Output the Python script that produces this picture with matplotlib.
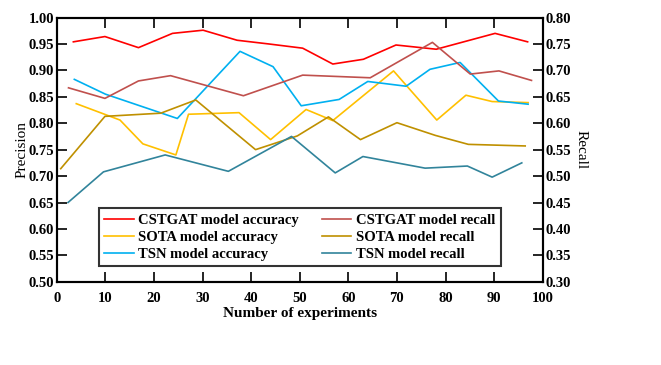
import matplotlib
matplotlib.use("Agg")
import matplotlib.pyplot as plt

# ---- data ----
cst_acc_x = [3.4, 9.9, 16.8, 23.8, 30.1, 37.1, 43.6, 50.6, 56.8, 63.1, 69.8, 78.1, 90.2, 96.9]
cst_acc_y = [0.954, 0.964, 0.943, 0.970, 0.976, 0.957, 0.950, 0.942, 0.912, 0.921, 0.948, 0.940, 0.970, 0.954]

sota_acc_x = [4.0, 10.1, 13.0, 17.7, 24.5, 27.1, 37.5, 44.0, 51.3, 56.8, 69.3, 78.2, 84.2, 89.6, 97.0]
sota_acc_y = [0.837, 0.816, 0.806, 0.761, 0.740, 0.817, 0.820, 0.769, 0.826, 0.805, 0.899, 0.806, 0.853, 0.841, 0.839]

tsn_acc_x = [3.6, 10.0, 24.8, 37.7, 44.5, 50.3, 58.1, 64.0, 71.9, 76.8, 83.0, 90.9, 97.0]
tsn_acc_y = [0.883, 0.855, 0.809, 0.936, 0.907, 0.833, 0.845, 0.879, 0.870, 0.902, 0.915, 0.842, 0.836]

cst_rec_x = [2.4, 9.9, 16.8, 23.4, 38.4, 50.6, 64.5, 77.3, 85.1, 91.0, 97.7]
cst_rec_y = [0.667, 0.647, 0.680, 0.690, 0.652, 0.691, 0.686, 0.753, 0.693, 0.699, 0.681]

sota_rec_x = [0.8, 9.9, 21.4, 28.6, 40.9, 49.5, 55.9, 62.5, 70.0, 77.9, 84.7, 96.4]
sota_rec_y = [0.514, 0.613, 0.619, 0.644, 0.550, 0.576, 0.612, 0.569, 0.601, 0.577, 0.560, 0.557]

tsn_rec_x = [2.3, 9.6, 22.3, 35.3, 48.3, 57.3, 63.0, 75.8, 84.5, 89.6, 95.7]
tsn_rec_y = [0.450, 0.508, 0.540, 0.509, 0.575, 0.506, 0.537, 0.515, 0.519, 0.498, 0.525]

x_ticks = [0, 10, 20, 30, 40, 50, 60, 70, 80, 90, 100]
left_ticks = [0.50, 0.55, 0.60, 0.65, 0.70, 0.75, 0.80, 0.85, 0.90, 0.95, 1.00]
right_ticks = [0.30, 0.35, 0.40, 0.45, 0.50, 0.55, 0.60, 0.65, 0.70, 0.75, 0.80]

labels_acc = ["CSTGAT model accuracy", "SOTA model accuracy", "TSN model accuracy"]
labels_rec = ["CSTGAT model recall", "SOTA model recall", "TSN model recall"]

# ---- style ----
plt.rcParams['font.family'] = ['Liberation Serif', 'DejaVu Serif']
fs = 10.5
lw = 1.2

fig = plt.figure(figsize=(6.61, 3.65), dpi=100)
ax = fig.add_axes([0.086, 0.228, 0.735, 0.724])
ax2 = ax.twinx()

c_red, c_ired = '#FF0000', '#C0504D'
c_gold, c_dgold = '#FFC000', '#BF9000'
c_sky, c_teal = '#00B0F0', '#31849B'

h1, = ax.plot(cst_acc_x, cst_acc_y, color=c_red, lw=lw)
h2, = ax.plot(sota_acc_x, sota_acc_y, color=c_gold, lw=lw)
h3, = ax.plot(tsn_acc_x, tsn_acc_y, color=c_sky, lw=lw)
h4, = ax2.plot(cst_rec_x, cst_rec_y, color=c_ired, lw=lw)
h5, = ax2.plot(sota_rec_x, sota_rec_y, color=c_dgold, lw=lw)
h6, = ax2.plot(tsn_rec_x, tsn_rec_y, color=c_teal, lw=lw)

ax.set_xlim(0, 100)
ax.set_ylim(0.5, 1.0)
ax2.set_ylim(0.3, 0.8)
ax.set_xticks(x_ticks)
ax.set_xticklabels([str(t) for t in x_ticks], fontsize=fs, fontweight='bold')
ax.set_yticks(left_ticks)
ax.set_yticklabels([f"{t:.2f}" for t in left_ticks], fontsize=fs, fontweight='bold')
ax2.set_yticks(right_ticks)
ax2.set_yticklabels([f"{t:.2f}" for t in right_ticks], fontsize=fs, fontweight='bold')

ax.tick_params(axis='x', direction='in', length=7, width=1.2, top=True, pad=7)
ax.tick_params(axis='y', direction='in', length=7, width=1.2, pad=2)
ax2.tick_params(axis='y', direction='in', length=7, width=1.2, pad=2)
for a in (ax, ax2):
    for s in a.spines.values():
        s.set_linewidth(1.5)

ax.set_xlabel("Number of experiments", fontsize=fs + 0.5, fontweight='bold', labelpad=2)
ax.set_ylabel("Precision", fontsize=fs + 0.5, labelpad=0)
ax2.set_ylabel("Recall", fontsize=fs + 0.5, rotation=270, labelpad=12)

leg = ax.legend([h1, h2, h3, h4, h5, h6], labels_acc + labels_rec, ncol=2,
                loc='lower left', bbox_to_anchor=(0.086, 0.058, 0.828, 0.223),
                mode='expand', frameon=True, fancybox=False, shadow=False,
                prop={'family': ['Liberation Serif'], 'weight': 'bold', 'size': fs},
                handlelength=2.0, handletextpad=0.3, borderpad=0.4,
                labelspacing=0.25, columnspacing=1.0, borderaxespad=0)
leg.get_frame().set_edgecolor('black')
leg.get_frame().set_linewidth(1.5)
leg.set_zorder(10)

fig.savefig("out.png", dpi=100)
